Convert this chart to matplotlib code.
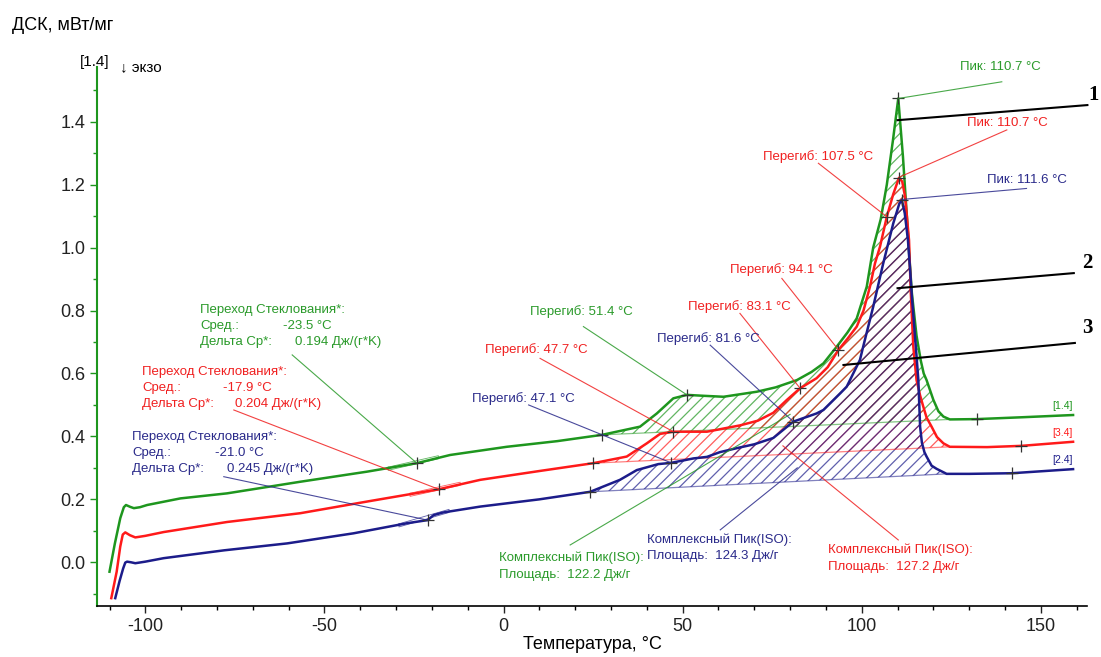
import numpy as np
import matplotlib.pyplot as plt

plt.rcParams['font.family'] = ['Liberation Sans', 'DejaVu Sans']
plt.rcParams['hatch.linewidth'] = 0.9
plt.rcParams['axes.unicode_minus'] = False

# ---------------------------------------------------------------------
# DSC curves: temperature (°C) and signal (mW/mg)
# ---------------------------------------------------------------------
green_t = [-110.0, -108.5, -107.0, -106.0, -105.4, -104.2, -103.2, -101.5, -99.5, -90.2,
           -77.2, -56.7, -38.1, -24.2, -14.9, 0.9, 15.0, 27.5, 38.1, 42.8, 47.4, 51.2,
           56.0, 61.4, 70.7, 76.0, 81.9, 86.0, 89.3, 93.0, 96.0, 98.6, 101.4, 103.2,
           105.3, 107.0, 108.7, 110.2, 111.5, 112.6, 113.3, 114.0, 115.3, 116.5, 117.3,
           118.1, 120.0, 121.4, 122.8, 124.6, 132.1, 145.0, 159.0]
green_v = [-0.03, 0.06, 0.14, 0.175, 0.182, 0.176, 0.172, 0.175, 0.182, 0.203,
           0.219, 0.256, 0.288, 0.315, 0.341, 0.367, 0.385, 0.405, 0.431, 0.473, 0.521, 0.532,
           0.529, 0.526, 0.542, 0.556, 0.579, 0.605, 0.632, 0.685, 0.73, 0.775, 0.876, 1.0,
           1.09, 1.2, 1.34, 1.474, 1.29, 1.10, 0.97, 0.855, 0.72, 0.64, 0.60,
           0.579, 0.516, 0.48, 0.463, 0.454, 0.455, 0.461, 0.468]

red_t = [-109.5, -108.0, -107.0, -106.3, -105.6, -104.3, -102.8, -100.0, -94.9, -77.2,
         -56.7, -38.1, -18.1, -6.5, 10.0, 25.1, 34.4, 40.0, 43.7, 47.4, 56.8, 66.0,
         71.0, 75.3, 79.1, 82.8, 87.4, 90.5, 93.5, 96.0, 98.6, 100.5, 102.3, 103.7,
         105.1, 107.0, 108.8, 110.4, 111.3, 112.1, 113.2, 113.7, 114.4, 115.3, 116.3,
         117.2, 118.1, 119.5, 121.0, 122.8, 124.6, 135.0, 144.6, 159.0]
red_v = [-0.114, -0.03, 0.05, 0.088, 0.095, 0.086, 0.079, 0.084, 0.096, 0.128,
         0.156, 0.193, 0.232, 0.262, 0.29, 0.315, 0.336, 0.378, 0.408, 0.415, 0.415, 0.435,
         0.45, 0.475, 0.516, 0.553, 0.585, 0.62, 0.675, 0.71, 0.749, 0.80, 0.876, 0.95,
         1.003, 1.098, 1.17, 1.222, 1.21, 1.162, 1.024, 0.855, 0.685, 0.579, 0.53,
         0.494, 0.46, 0.431, 0.398, 0.378, 0.367, 0.366, 0.370, 0.383]

blue_t = [-108.4, -107.2, -106.2, -105.6, -105.1, -104.0, -102.8, -100.0, -94.9, -78.0,
          -60.4, -41.9, -27.0, -21.2, -19.5, -17.0, -6.5, 10.0, 24.2, 32.5, 37.2, 43.2,
          46.8, 53.0, 56.8, 60.4, 66.0, 70.0, 75.3, 80.9, 87.4, 89.3, 94.0, 95.8, 99.5,
          100.4, 103.2, 106.0, 108.8, 110.5, 111.2, 112.0, 112.9, 113.5, 114.0, 115.0,
          115.8, 116.3, 116.8, 117.5, 118.1, 119.5, 120.9, 123.7, 130.0, 141.9, 159.0]
blue_v = [-0.114, -0.06, -0.02, -0.001, 0.002, 0.0, -0.003, 0.002, 0.013, 0.038,
          0.060, 0.092, 0.124, 0.134, 0.150, 0.158, 0.177, 0.20, 0.224, 0.262, 0.293, 0.312,
          0.316, 0.330, 0.335, 0.35, 0.365, 0.375, 0.395, 0.447, 0.473, 0.484, 0.537, 0.558, 0.643,
          0.685, 0.812, 0.950, 1.077, 1.14, 1.151, 1.11, 1.024, 0.93, 0.844, 0.70,
          0.58, 0.43, 0.38, 0.35, 0.336, 0.307, 0.297, 0.281, 0.281, 0.283, 0.296]

# temperatures of the "+" marks on each curve
green_marks = [-24.2, 27.5, 51.2, 110.2, 132.1]
red_marks = [-18.1, 25.1, 47.4, 82.8, 93.5, 107.0, 110.4, 144.6]
blue_marks = [-21.2, 24.2, 46.8, 80.9, 111.2, 141.9]

# glass transition midpoints (°C) and integration limits of the complex peaks (°C)
green_tg, red_tg, blue_tg = -24.2, -18.1, -21.2
green_limits = [27.5, 124.6]
red_limits = [25.1, 124.6]
blue_limits = [24.2, 123.7]

curve_names = ['[1.4]', '[3.4]', '[2.4]']
x_ticks = [-100, -50, 0, 50, 100, 150]
y_ticks = [0.0, 0.2, 0.4, 0.6, 0.8, 1.0, 1.2, 1.4]

GREEN = '#1e961e'
RED = '#ff1a1a'
BLUE = '#1c1c8a'

fig = plt.figure(figsize=(11.01, 6.57), dpi=100)
ax = fig.add_axes([0.0884, 0.0776, 0.8986, 0.8209])
ax.set_xlim(-113.4, 162.8)
ax.set_ylim(-0.139, 1.575)

series = [
    (green_t, green_v, green_marks, green_limits, green_tg, GREEN),
    (red_t, red_v, red_marks, red_limits, red_tg, RED),
    (blue_t, blue_v, blue_marks, blue_limits, blue_tg, BLUE),
]

for t, v, marks, limits, tg, color in series:
    t = np.array(t)
    v = np.array(v)
    # hatched peak area between curve and straight baseline
    base_y = np.interp(limits, t, v)
    baseline = np.interp(t, limits, base_y)
    inside = (t >= limits[0]) & (t <= limits[1])
    ax.fill_between(t[inside], v[inside], baseline[inside], facecolor='none',
                    edgecolor=color, hatch='///', linewidth=0, alpha=0.7)
    ax.plot(limits, base_y, color=color, lw=0.9, alpha=0.55)
    # thin tangent box of the glass transition construction
    gx = [tg - 8, tg + 6, tg + 6, tg - 8, tg - 8]
    gy_mid = np.interp([tg - 8, tg + 6], t, v)
    gy = [gy_mid[0] + 0.003, gy_mid[1] + 0.007, gy_mid[1] - 0.003, gy_mid[0] - 0.007,
          gy_mid[0] + 0.003]
    ax.plot(gx, gy, color=color, lw=0.6, alpha=0.7)
    ax.plot(t, v, color=color, lw=1.8)
    ax.plot(marks, np.interp(marks, t, v), ls='none', marker='+', ms=9, mew=0.9,
            color='#333333')

# small labels at the right end of each curve
for (t, v, *_, color), name in zip(series, curve_names):
    ax.text(t[-1], v[-1] + 0.012, name, color=color, fontsize=7.5,
            ha='right', va='bottom')

# ---------------------------------------------------------------------
# Annotations: (text, text x, text y, leader from, leader to, colour)
# ---------------------------------------------------------------------
TXT_G, TXT_R, TXT_B = '#2a9a2a', '#f02020', '#2a2a8a'
notes = [
    ('Пик: 110.7 °C', 127.4, 1.574, (139.1, 1.527), (110.2, 1.474), TXT_G),
    ('Перегиб: 51.4 °C', 7.5, 0.796, (22.3, 0.749), (51.2, 0.532), TXT_G),
    ('Пик: 110.7 °C', 129.4, 1.396, (140.5, 1.374), (110.7, 1.225), TXT_R),
    ('Перегиб: 107.5 °C', 72.4, 1.288, (87.9, 1.268), (107.0, 1.098), TXT_R),
    ('Перегиб: 94.1 °C', 63.3, 0.929, (77.7, 0.902), (93.5, 0.675), TXT_R),
    ('Перегиб: 83.1 °C', 51.5, 0.812, (66.0, 0.791), (82.8, 0.553), TXT_R),
    ('Перегиб: 47.7 °C', -5.1, 0.675, (10.2, 0.648), (47.4, 0.415), TXT_R),
    ('Пик: 111.6 °C', 135.0, 1.214, (146.0, 1.188), (111.2, 1.153), TXT_B),
    ('Перегиб: 81.6 °C', 42.8, 0.712, (57.7, 0.690), (80.9, 0.447), TXT_B),
    ('Перегиб: 47.1 °C', -8.8, 0.521, (7.0, 0.500), (46.8, 0.316), TXT_B),
]
for text, tx, ty, p0, p1, color in notes:
    ax.text(tx, ty, text, color=color, fontsize=9.5, ha='left', va='center')
    ax.plot([p0[0], p1[0]], [p0[1], p1[1]], color=color, lw=0.8, alpha=0.85)

# glass transition blocks
glass = [
    (-84.6, 0.802, '-23.5 °C', '0.194 Дж/(г*K)', -61.5, -58.2, (-59.0, 0.659), (-24.2, 0.315), TXT_G),
    (-100.9, 0.606, '-17.9 °C', '0.204 Дж/(г*K)', -78.2, -74.9, (-75.3, 0.484), (-18.1, 0.232), TXT_R),
    (-103.7, 0.399, '-21.0 °C', '0.245 Дж/(г*K)', -80.5, -77.2, (-78.1, 0.272), (-21.2, 0.134), TXT_B),
]
for gx, gy, mid, dcp, mx, dx, p0, p1, color in glass:
    ax.text(gx, gy, 'Переход Стеклования*:', color=color, fontsize=9.5, va='center')
    ax.text(gx, gy - 0.051, 'Сред.:', color=color, fontsize=9.5, va='center')
    ax.text(mx, gy - 0.051, mid, color=color, fontsize=9.5, va='center')
    ax.text(gx, gy - 0.103, 'Дельта Cp*:', color=color, fontsize=9.5, va='center')
    ax.text(dx, gy - 0.103, dcp, color=color, fontsize=9.5, va='center')
    ax.plot([p0[0], p1[0]], [p0[1], p1[1]], color=color, lw=0.8, alpha=0.85)

# complex peak blocks
areas = [
    (-1.4, 0.013, '122.2', (18.6, 0.055), (80.0, 0.47), TXT_G),
    (40.0, 0.073, '124.3', (60.5, 0.103), (82.0, 0.30), TXT_B),
    (90.7, 0.039, '127.2', (110.2, 0.071), (78.0, 0.37), TXT_R),
]
for ax_x, ax_y, area, p0, p1, color in areas:
    ax.text(ax_x, ax_y, 'Комплексный Пик(ISO):', color=color, fontsize=9.5, va='center')
    ax.text(ax_x, ax_y - 0.053, 'Площадь:  ' + area + ' Дж/г', color=color,
            fontsize=9.5, va='center')
    ax.plot([p0[0], p1[0]], [p0[1], p1[1]], color=color, lw=0.8, alpha=0.85)

# numbered callouts 1, 2, 3
callouts = [
    ('1', (110.0, 1.405), (163.0, 1.453), (163.2, 1.486)),
    ('2', (110.0, 0.871), (159.2, 0.919), (161.5, 0.951)),
    ('3', (94.9, 0.627), (159.5, 0.697), (161.5, 0.745)),
]
for label, p0, p1, pt in callouts:
    ax.plot([p0[0], p1[0]], [p0[1], p1[1]], color='black', lw=1.5, clip_on=False)
    ax.text(pt[0], pt[1], label, fontsize=15, fontweight='bold',
            family='Liberation Serif', ha='left', va='center')

# axes styling
for side in ['top', 'right']:
    ax.spines[side].set_visible(False)
ax.spines['left'].set_color(GREEN)
ax.spines['left'].set_linewidth(1.5)
ax.spines['bottom'].set_color('black')
ax.spines['bottom'].set_linewidth(1.2)
ax.set_xticks(x_ticks)
ax.set_xticks(np.arange(-110, 161, 10), minor=True)
ax.set_yticks(y_ticks)
ax.set_yticks(np.arange(-0.1, 1.51, 0.1), minor=True)
ax.set_yticklabels([f'{v:.1f}' for v in y_ticks])
ax.tick_params(axis='both', labelsize=13, colors='#222222', length=5, width=1)
ax.tick_params(axis='both', which='minor', length=3, width=1)
ax.tick_params(axis='y', which='both', color=GREEN)
ax.set_xlabel('Температура, °C', fontsize=13, labelpad=1)

fig.text(12 / 1101, 1 - 25 / 657, 'ДСК, мВт/мг', fontsize=13, va='center')
fig.text(80 / 1101, 1 - 62 / 657, '[1.4]', fontsize=11, va='center')
fig.text(120 / 1101, 1 - 67 / 657, '↓ экзо', fontsize=11, va='center')

fig.savefig('out.png', dpi=100)
